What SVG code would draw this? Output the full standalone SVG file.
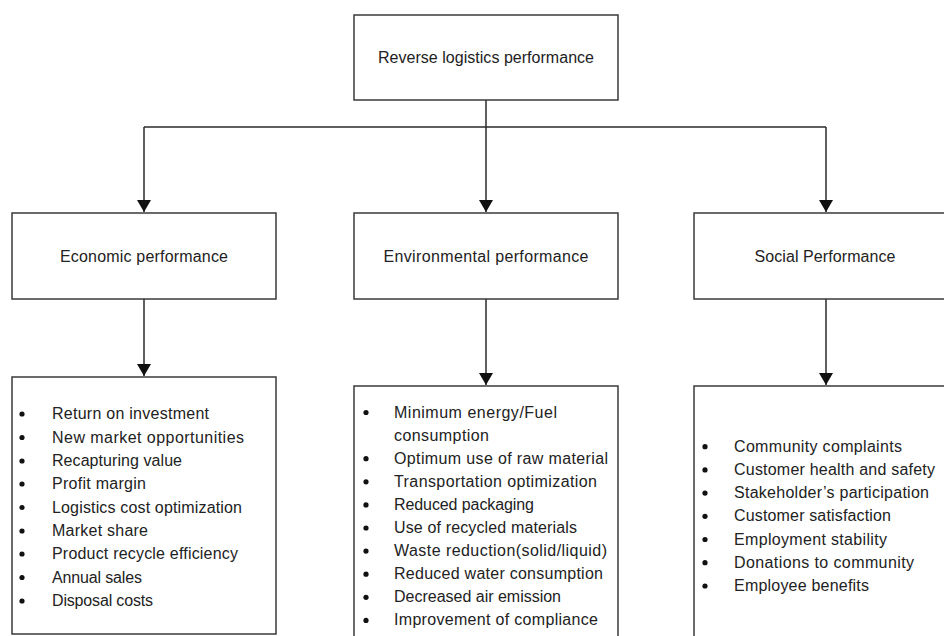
<svg xmlns="http://www.w3.org/2000/svg" width="944" height="636" viewBox="0 0 944 636">
  <style>
    .box { fill: #ffffff; stroke: #3a3a3a; stroke-width: 1.5; }
    .lbl { font-family: "Liberation Sans", Arial, sans-serif; font-size: 16px; fill: #222222; }
    .mid { text-anchor: middle; }
    .wire { fill: none; stroke: #2a2a2a; stroke-width: 1.5; }
    .dot { fill: #111111; }
  </style>
  <defs>
    <marker id="arrow" viewBox="0 0 12 14" refX="12" refY="7" markerWidth="12" markerHeight="14" markerUnits="userSpaceOnUse" orient="auto">
      <path d="M0,0 L12,7 L0,14 Z" fill="#111111"/>
    </marker>
  </defs>
  <rect width="944" height="636" fill="#ffffff"/>

  <g id="connectors">
    <path class="wire" d="M486,100 V127"/>
    <path class="wire" d="M144,127 H826"/>
    <path class="wire" d="M144,127 V212" marker-end="url(#arrow)"/>
    <path class="wire" d="M486,127 V212" marker-end="url(#arrow)"/>
    <path class="wire" d="M826,127 V212" marker-end="url(#arrow)"/>
    <path class="wire" d="M144,299 V376" marker-end="url(#arrow)"/>
    <path class="wire" d="M486,299 V385" marker-end="url(#arrow)"/>
    <path class="wire" d="M826,299 V385" marker-end="url(#arrow)"/>
  </g>

  <g id="root">
    <rect class="box" x="354" y="15" width="264" height="85"/>
    <text class="lbl mid" x="486" y="63" textLength="216">Reverse logistics performance</text>
  </g>

  <g id="economic">
    <rect class="box" x="12" y="213" width="264" height="86"/>
    <text class="lbl mid" x="144" y="262" textLength="168">Economic performance</text>
  </g>

  <g id="environmental">
    <rect class="box" x="354" y="213" width="264" height="86"/>
    <text class="lbl mid" x="486" y="262" textLength="205">Environmental performance</text>
  </g>

  <g id="social">
    <rect class="box" x="694" y="213" width="264" height="86"/>
    <text class="lbl mid" x="825" y="262" textLength="141">Social Performance</text>
  </g>

  <g id="economic-measures">
    <rect class="box" x="12" y="377" width="264" height="257"/>
    <g class="dot">
      <circle cx="22" cy="414" r="2.6"/>
      <circle cx="22" cy="437.5" r="2.6"/>
      <circle cx="22" cy="461" r="2.6"/>
      <circle cx="22" cy="484" r="2.6"/>
      <circle cx="22" cy="507.5" r="2.6"/>
      <circle cx="22" cy="531" r="2.6"/>
      <circle cx="22" cy="554" r="2.6"/>
      <circle cx="22" cy="577.5" r="2.6"/>
      <circle cx="22" cy="601" r="2.6"/>
    </g>
    <text class="lbl" x="52" y="419" textLength="157">Return on investment</text>
    <text class="lbl" x="52" y="442.5" textLength="192">New market opportunities</text>
    <text class="lbl" x="52" y="466" textLength="130">Recapturing value</text>
    <text class="lbl" x="52" y="489" textLength="94">Profit margin</text>
    <text class="lbl" x="52" y="512.5" textLength="190">Logistics cost optimization</text>
    <text class="lbl" x="52" y="536" textLength="96">Market share</text>
    <text class="lbl" x="52" y="559" textLength="186">Product recycle efficiency</text>
    <text class="lbl" x="52" y="582.5" textLength="90">Annual sales</text>
    <text class="lbl" x="52" y="606" textLength="101">Disposal costs</text>
  </g>

  <g id="environmental-measures">
    <rect class="box" x="354" y="386" width="264" height="260"/>
    <g class="dot">
      <circle cx="366" cy="412.5" r="2.6"/>
      <circle cx="366" cy="458.7" r="2.6"/>
      <circle cx="366" cy="481.8" r="2.6"/>
      <circle cx="366" cy="504.9" r="2.6"/>
      <circle cx="366" cy="528" r="2.6"/>
      <circle cx="366" cy="551.1" r="2.6"/>
      <circle cx="366" cy="574.2" r="2.6"/>
      <circle cx="366" cy="597.3" r="2.6"/>
      <circle cx="366" cy="620.4" r="2.6"/>
    </g>
    <text class="lbl" x="394" y="417.5" textLength="163">Minimum energy/Fuel</text>
    <text class="lbl" x="394" y="440.6" textLength="95">consumption</text>
    <text class="lbl" x="394" y="463.7" textLength="214">Optimum use of raw material</text>
    <text class="lbl" x="394" y="486.8" textLength="203">Transportation optimization</text>
    <text class="lbl" x="394" y="509.9" textLength="140">Reduced packaging</text>
    <text class="lbl" x="394" y="533" textLength="183">Use of recycled materials</text>
    <text class="lbl" x="394" y="556.1" textLength="213">Waste reduction(solid/liquid)</text>
    <text class="lbl" x="394" y="579.2" textLength="209">Reduced water consumption</text>
    <text class="lbl" x="394" y="602.3" textLength="167">Decreased air emission</text>
    <text class="lbl" x="394" y="625.4" textLength="204">Improvement of compliance</text>
  </g>

  <g id="social-measures">
    <rect class="box" x="694" y="386" width="264" height="260"/>
    <g class="dot">
      <circle cx="705" cy="446.7" r="2.6"/>
      <circle cx="705" cy="469.9" r="2.6"/>
      <circle cx="705" cy="493.1" r="2.6"/>
      <circle cx="705" cy="516.3" r="2.6"/>
      <circle cx="705" cy="539.5" r="2.6"/>
      <circle cx="705" cy="562.7" r="2.6"/>
      <circle cx="705" cy="586" r="2.6"/>
    </g>
    <text class="lbl" x="734" y="451.7" textLength="168">Community complaints</text>
    <text class="lbl" x="734" y="474.9" textLength="201">Customer health and safety</text>
    <text class="lbl" x="734" y="498.1" textLength="195">Stakeholder’s participation</text>
    <text class="lbl" x="734" y="521.3" textLength="157">Customer satisfaction</text>
    <text class="lbl" x="734" y="544.5" textLength="153">Employment stability</text>
    <text class="lbl" x="734" y="567.7" textLength="180">Donations to community</text>
    <text class="lbl" x="734" y="591" textLength="135">Employee benefits</text>
  </g>
</svg>
